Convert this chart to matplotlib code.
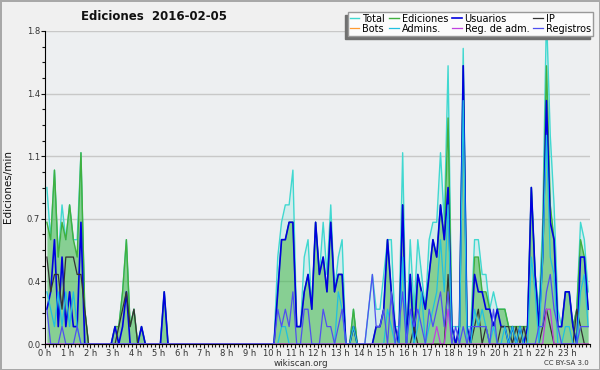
import numpy as np
import matplotlib
matplotlib.use('Agg')
from matplotlib import pyplot as plt
from matplotlib.ticker import FormatStrFormatter, MultipleLocator

# edits per minute, one value per 10 minutes (2 hours per row)
total = [
    0.9, 0.6, 1.0, 0.5, 0.8, 0.6, 0.8, 0.6, 0.6, 1.1, 0.2, 0.0,
    0.0, 0.0, 0.0, 0.0, 0.0, 0.0, 0.1, 0.1, 0.3, 0.6, 0.1, 0.2,
    0.0, 0.1, 0.0, 0.0, 0.0, 0.0, 0.0, 0.3, 0.0, 0.0, 0.0, 0.0,
    0.0, 0.0, 0.0, 0.0, 0.0, 0.0, 0.0, 0.0, 0.0, 0.0, 0.0, 0.0,
    0.0, 0.0, 0.0, 0.0, 0.0, 0.0, 0.0, 0.0, 0.0, 0.0, 0.0, 0.0,
    0.0, 0.5, 0.7, 0.8, 0.8, 1.0, 0.1, 0.1, 0.5, 0.6, 0.2, 0.7,
    0.4, 0.7, 0.4, 0.8, 0.3, 0.5, 0.6, 0.0, 0.0, 0.2, 0.0, 0.0,
    0.0, 0.2, 0.4, 0.2, 0.2, 0.4, 0.6, 0.6, 0.1, 0.1, 1.1, 0.0,
    0.6, 0.2, 0.6, 0.4, 0.2, 0.6, 0.7, 0.7, 1.1, 0.7, 1.6, 0.1,
    0.1, 0.1, 1.7, 0.1, 0.1, 0.6, 0.6, 0.4, 0.4, 0.2, 0.3, 0.2,
    0.2, 0.2, 0.1, 0.1, 0.1, 0.1, 0.1, 0.1, 0.9, 0.4, 0.2, 0.7,
    1.9, 1.2, 0.8, 0.2, 0.1, 0.3, 0.3, 0.1, 0.2, 0.7, 0.6, 0.3,
]
ediciones = [
    0.7, 0.6, 1.0, 0.5, 0.7, 0.6, 0.8, 0.6, 0.5, 1.1, 0.2, 0.0,
    0.0, 0.0, 0.0, 0.0, 0.0, 0.0, 0.1, 0.1, 0.3, 0.6, 0.1, 0.2,
    0.0, 0.1, 0.0, 0.0, 0.0, 0.0, 0.0, 0.3, 0.0, 0.0, 0.0, 0.0,
    0.0, 0.0, 0.0, 0.0, 0.0, 0.0, 0.0, 0.0, 0.0, 0.0, 0.0, 0.0,
    0.0, 0.0, 0.0, 0.0, 0.0, 0.0, 0.0, 0.0, 0.0, 0.0, 0.0, 0.0,
    0.0, 0.3, 0.6, 0.6, 0.7, 0.7, 0.1, 0.1, 0.3, 0.4, 0.2, 0.7,
    0.4, 0.5, 0.3, 0.7, 0.3, 0.4, 0.4, 0.0, 0.0, 0.2, 0.0, 0.0,
    0.0, 0.0, 0.0, 0.1, 0.1, 0.2, 0.6, 0.3, 0.1, 0.0, 0.8, 0.0,
    0.4, 0.1, 0.4, 0.3, 0.2, 0.4, 0.6, 0.5, 0.8, 0.6, 1.3, 0.1,
    0.0, 0.1, 1.6, 0.1, 0.0, 0.5, 0.5, 0.3, 0.3, 0.2, 0.1, 0.2,
    0.2, 0.2, 0.1, 0.1, 0.1, 0.1, 0.1, 0.1, 0.9, 0.4, 0.1, 0.6,
    1.6, 0.8, 0.6, 0.1, 0.1, 0.3, 0.3, 0.1, 0.2, 0.6, 0.5, 0.2,
]
usuarios = [
    0.2, 0.3, 0.6, 0.1, 0.5, 0.1, 0.3, 0.1, 0.1, 0.7, 0.0, 0.0,
    0.0, 0.0, 0.0, 0.0, 0.0, 0.0, 0.1, 0.0, 0.1, 0.3, 0.0, 0.0,
    0.0, 0.1, 0.0, 0.0, 0.0, 0.0, 0.0, 0.3, 0.0, 0.0, 0.0, 0.0,
    0.0, 0.0, 0.0, 0.0, 0.0, 0.0, 0.0, 0.0, 0.0, 0.0, 0.0, 0.0,
    0.0, 0.0, 0.0, 0.0, 0.0, 0.0, 0.0, 0.0, 0.0, 0.0, 0.0, 0.0,
    0.0, 0.3, 0.6, 0.6, 0.7, 0.7, 0.1, 0.1, 0.3, 0.4, 0.2, 0.7,
    0.4, 0.5, 0.3, 0.7, 0.3, 0.4, 0.4, 0.0, 0.0, 0.1, 0.0, 0.0,
    0.0, 0.0, 0.0, 0.1, 0.1, 0.2, 0.6, 0.3, 0.1, 0.0, 0.8, 0.0,
    0.4, 0.0, 0.4, 0.3, 0.2, 0.4, 0.6, 0.5, 0.8, 0.6, 0.9, 0.1,
    0.0, 0.1, 1.6, 0.1, 0.0, 0.4, 0.3, 0.3, 0.2, 0.2, 0.1, 0.2,
    0.1, 0.1, 0.0, 0.1, 0.0, 0.1, 0.0, 0.1, 0.9, 0.4, 0.1, 0.5,
    1.4, 0.7, 0.6, 0.1, 0.1, 0.3, 0.3, 0.1, 0.0, 0.5, 0.5, 0.2,
]
ip = [
    0.5, 0.3, 0.4, 0.4, 0.2, 0.5, 0.5, 0.5, 0.4, 0.4, 0.2, 0.0,
    0.0, 0.0, 0.0, 0.0, 0.0, 0.0, 0.0, 0.1, 0.2, 0.3, 0.1, 0.2,
    0.0, 0.0, 0.0, 0.0, 0.0, 0.0, 0.0, 0.0, 0.0, 0.0, 0.0, 0.0,
    0.0, 0.0, 0.0, 0.0, 0.0, 0.0, 0.0, 0.0, 0.0, 0.0, 0.0, 0.0,
    0.0, 0.0, 0.0, 0.0, 0.0, 0.0, 0.0, 0.0, 0.0, 0.0, 0.0, 0.0,
    0.0, 0.0, 0.0, 0.0, 0.0, 0.0, 0.0, 0.0, 0.0, 0.0, 0.0, 0.0,
    0.0, 0.0, 0.0, 0.0, 0.0, 0.0, 0.0, 0.0, 0.0, 0.1, 0.0, 0.0,
    0.0, 0.0, 0.0, 0.0, 0.0, 0.0, 0.0, 0.0, 0.0, 0.0, 0.0, 0.0,
    0.0, 0.1, 0.0, 0.0, 0.0, 0.0, 0.0, 0.0, 0.0, 0.0, 0.4, 0.0,
    0.0, 0.0, 0.0, 0.0, 0.0, 0.1, 0.2, 0.0, 0.1, 0.0, 0.0, 0.0,
    0.1, 0.1, 0.1, 0.0, 0.1, 0.0, 0.1, 0.0, 0.0, 0.0, 0.0, 0.1,
    0.2, 0.1, 0.0, 0.0, 0.0, 0.0, 0.0, 0.0, 0.2, 0.1, 0.0, 0.0,
]
bots = [
    0.0, 0.0, 0.0, 0.0, 0.0, 0.0, 0.0, 0.0, 0.0, 0.0, 0.0, 0.0,
    0.0, 0.0, 0.0, 0.0, 0.0, 0.0, 0.0, 0.0, 0.0, 0.0, 0.0, 0.0,
    0.0, 0.0, 0.0, 0.0, 0.0, 0.0, 0.0, 0.0, 0.0, 0.0, 0.0, 0.0,
    0.0, 0.0, 0.0, 0.0, 0.0, 0.0, 0.0, 0.0, 0.0, 0.0, 0.0, 0.0,
    0.0, 0.0, 0.0, 0.0, 0.0, 0.0, 0.0, 0.0, 0.0, 0.0, 0.0, 0.0,
    0.0, 0.0, 0.0, 0.0, 0.0, 0.0, 0.0, 0.0, 0.0, 0.0, 0.0, 0.0,
    0.0, 0.0, 0.0, 0.0, 0.0, 0.0, 0.0, 0.0, 0.0, 0.0, 0.0, 0.0,
    0.0, 0.0, 0.0, 0.0, 0.0, 0.0, 0.0, 0.0, 0.0, 0.0, 0.0, 0.0,
    0.0, 0.0, 0.0, 0.0, 0.0, 0.0, 0.0, 0.0, 0.0, 0.0, 0.0, 0.0,
    0.0, 0.0, 0.0, 0.0, 0.0, 0.0, 0.0, 0.0, 0.0, 0.0, 0.0, 0.0,
    0.0, 0.0, 0.0, 0.0, 0.0, 0.0, 0.0, 0.0, 0.0, 0.0, 0.0, 0.0,
    0.0, 0.0, 0.0, 0.0, 0.0, 0.0, 0.0, 0.0, 0.0, 0.0, 0.0, 0.0,
]
admins = [
    0.3, 0.2, 0.1, 0.3, 0.1, 0.3, 0.1, 0.3, 0.1, 0.0, 0.0, 0.0,
    0.0, 0.0, 0.0, 0.0, 0.0, 0.0, 0.0, 0.0, 0.0, 0.0, 0.0, 0.0,
    0.0, 0.0, 0.0, 0.0, 0.0, 0.0, 0.0, 0.0, 0.0, 0.0, 0.0, 0.0,
    0.0, 0.0, 0.0, 0.0, 0.0, 0.0, 0.0, 0.0, 0.0, 0.0, 0.0, 0.0,
    0.0, 0.0, 0.0, 0.0, 0.0, 0.0, 0.0, 0.0, 0.0, 0.0, 0.0, 0.0,
    0.0, 0.0, 0.1, 0.1, 0.0, 0.0, 0.0, 0.0, 0.0, 0.0, 0.0, 0.0,
    0.0, 0.0, 0.0, 0.0, 0.0, 0.3, 0.2, 0.0, 0.0, 0.1, 0.0, 0.0,
    0.0, 0.0, 0.0, 0.0, 0.0, 0.0, 0.2, 0.1, 0.0, 0.0, 0.5, 0.0,
    0.2, 0.0, 0.1, 0.3, 0.0, 0.1, 0.2, 0.3, 0.6, 0.3, 0.8, 0.0,
    0.0, 0.0, 1.4, 0.0, 0.0, 0.2, 0.1, 0.2, 0.1, 0.0, 0.1, 0.0,
    0.0, 0.1, 0.0, 0.1, 0.0, 0.1, 0.0, 0.0, 0.5, 0.3, 0.0, 0.5,
    1.2, 0.5, 0.4, 0.0, 0.0, 0.1, 0.1, 0.0, 0.0, 0.3, 0.4, 0.1,
]
reg_adm = [
    0.0, 0.0, 0.0, 0.0, 0.0, 0.0, 0.0, 0.0, 0.0, 0.0, 0.0, 0.0,
    0.0, 0.0, 0.0, 0.0, 0.0, 0.0, 0.0, 0.0, 0.0, 0.0, 0.0, 0.0,
    0.0, 0.0, 0.0, 0.0, 0.0, 0.0, 0.0, 0.0, 0.0, 0.0, 0.0, 0.0,
    0.0, 0.0, 0.0, 0.0, 0.0, 0.0, 0.0, 0.0, 0.0, 0.0, 0.0, 0.0,
    0.0, 0.0, 0.0, 0.0, 0.0, 0.0, 0.0, 0.0, 0.0, 0.0, 0.0, 0.0,
    0.0, 0.0, 0.0, 0.0, 0.0, 0.0, 0.0, 0.0, 0.0, 0.0, 0.0, 0.0,
    0.0, 0.0, 0.0, 0.0, 0.0, 0.0, 0.0, 0.0, 0.0, 0.0, 0.0, 0.0,
    0.0, 0.0, 0.0, 0.0, 0.0, 0.0, 0.0, 0.0, 0.0, 0.0, 0.0, 0.0,
    0.0, 0.0, 0.0, 0.0, 0.0, 0.0, 0.0, 0.1, 0.0, 0.0, 0.2, 0.0,
    0.0, 0.0, 0.0, 0.0, 0.0, 0.0, 0.0, 0.0, 0.0, 0.0, 0.0, 0.0,
    0.0, 0.0, 0.0, 0.0, 0.0, 0.0, 0.0, 0.0, 0.0, 0.0, 0.0, 0.0,
    0.2, 0.2, 0.0, 0.0, 0.0, 0.0, 0.0, 0.0, 0.0, 0.0, 0.0, 0.0,
]
registros = [
    0.2, 0.0, 0.0, 0.0, 0.1, 0.0, 0.0, 0.0, 0.1, 0.0, 0.0, 0.0,
    0.0, 0.0, 0.0, 0.0, 0.0, 0.0, 0.0, 0.0, 0.0, 0.0, 0.0, 0.0,
    0.0, 0.0, 0.0, 0.0, 0.0, 0.0, 0.0, 0.0, 0.0, 0.0, 0.0, 0.0,
    0.0, 0.0, 0.0, 0.0, 0.0, 0.0, 0.0, 0.0, 0.0, 0.0, 0.0, 0.0,
    0.0, 0.0, 0.0, 0.0, 0.0, 0.0, 0.0, 0.0, 0.0, 0.0, 0.0, 0.0,
    0.0, 0.2, 0.1, 0.2, 0.1, 0.3, 0.0, 0.0, 0.2, 0.2, 0.0, 0.0,
    0.0, 0.2, 0.1, 0.1, 0.0, 0.1, 0.2, 0.0, 0.0, 0.0, 0.0, 0.0,
    0.0, 0.2, 0.4, 0.1, 0.1, 0.2, 0.0, 0.3, 0.0, 0.1, 0.3, 0.0,
    0.2, 0.1, 0.2, 0.1, 0.0, 0.2, 0.1, 0.2, 0.3, 0.1, 0.3, 0.0,
    0.1, 0.0, 0.1, 0.0, 0.1, 0.1, 0.1, 0.1, 0.1, 0.0, 0.2, 0.0,
    0.0, 0.0, 0.0, 0.0, 0.0, 0.0, 0.0, 0.0, 0.0, 0.0, 0.1, 0.1,
    0.3, 0.4, 0.2, 0.1, 0.0, 0.0, 0.0, 0.0, 0.0, 0.1, 0.1, 0.1,
]
hour_labels = ['%d h' % h for h in range(24)]

# points sit in the middle of each 10 minute slot
x = (np.arange(len(total)) + 0.5) / 6.0

fig = plt.figure(figsize=(6, 3.7), dpi=100)
fig.patch.set_facecolor('#f0f0f0')
fig.patch.set_edgecolor('#a8a8a8')
fig.patch.set_linewidth(2)

ax = fig.add_axes([45/600, 26/370, 545/600, 313/370])
ax.set_facecolor('#edeff1')

ax.fill_between(x, total, color='#40e0d0', alpha=0.15, lw=0, clip_on=False, zorder=2)
l_total, = ax.plot(x, total, color='#40d8d0', lw=1.0, clip_on=False, zorder=3)
ax.fill_between(x, ediciones, color='#3cb43c', alpha=0.5, lw=0, clip_on=False, zorder=3)
l_ed, = ax.plot(x, ediciones, color='#40b040', lw=1.0, clip_on=False, zorder=4)
l_us, = ax.plot(x, usuarios, color='#0000e0', lw=1.2, clip_on=False, zorder=5)
l_ip, = ax.plot(x, ip, color='#333333', lw=0.9, clip_on=False, zorder=5)
l_bot, = ax.plot(x, bots, color='#ff9a30', lw=0.9, clip_on=False, zorder=5)
l_adm, = ax.plot(x, admins, color='#20c0e0', lw=0.9, clip_on=False, zorder=6)
l_radm, = ax.plot(x, reg_adm, color='#c040e0', lw=0.9, clip_on=False, zorder=6)
l_reg, = ax.plot(x, registros, color='#5050f0', lw=0.9, clip_on=False, zorder=6)

ax.set_xlim(0, 24)
ax.set_ylim(0, 1.8)
ax.set_xticks(range(24))
ax.set_xticklabels(hour_labels)
ax.xaxis.set_minor_locator(MultipleLocator(1/6))
ax.set_yticks(np.linspace(0, 1.8, 6))
ax.yaxis.set_major_formatter(FormatStrFormatter('%.1f'))
ax.yaxis.set_minor_locator(MultipleLocator(0.09))
ax.tick_params(which='both', labelsize=6, colors='#111111', labelcolor='#333333', width=0.8)
ax.tick_params(which='major', length=3, pad=0.5)
ax.tick_params(which='minor', length=2.5)
ax.grid(axis='y', which='major', color='#c8c8c8', lw=1)
ax.set_axisbelow(True)
for s in ['top', 'right']:
    ax.spines[s].set_visible(False)
for s in ['left', 'bottom']:
    ax.spines[s].set_zorder(12)

handles = [l_total, l_bot, l_ed, l_adm, l_us, l_radm, l_ip, l_reg]
labels = ['Total', 'Bots', 'Ediciones', 'Admins.', 'Usuarios', 'Reg. de adm.', 'IP', 'Registros']
leg = fig.legend(handles, labels, ncol=4, loc='upper right', bbox_to_anchor=(0.988, 0.968),
                 fontsize=7, fancybox=False, framealpha=1, facecolor='#fbfbfb', edgecolor='#999999',
                 shadow={'ox': -2.2, 'oy': -2.2, 'color': '#707070', 'alpha': 1},
                 handlelength=1.0, handletextpad=0.3, columnspacing=0.4,
                 labelspacing=0.0, borderpad=0.2, borderaxespad=0)
leg.set_zorder(10)

fig.text(154/600, 1 - 16/370, 'Ediciones  2016-02-05', ha='center', va='center',
         fontsize=8.5, fontweight='bold', color='#111111')
fig.text(8/600, 1 - 187/370, 'Ediciones/min', rotation=90, ha='center', va='center',
         fontsize=7.5, color='#111111')
fig.text(301/600, 1 - 363/370, 'wikiscan.org', ha='center', va='center', fontsize=6.3, color='#333333')
fig.text(589/600, 1 - 363/370, 'CC BY-SA 3.0', ha='right', va='center', fontsize=5, color='#333333')

fig.savefig('out.png', dpi=100, facecolor=fig.get_facecolor(), edgecolor=fig.get_edgecolor())
